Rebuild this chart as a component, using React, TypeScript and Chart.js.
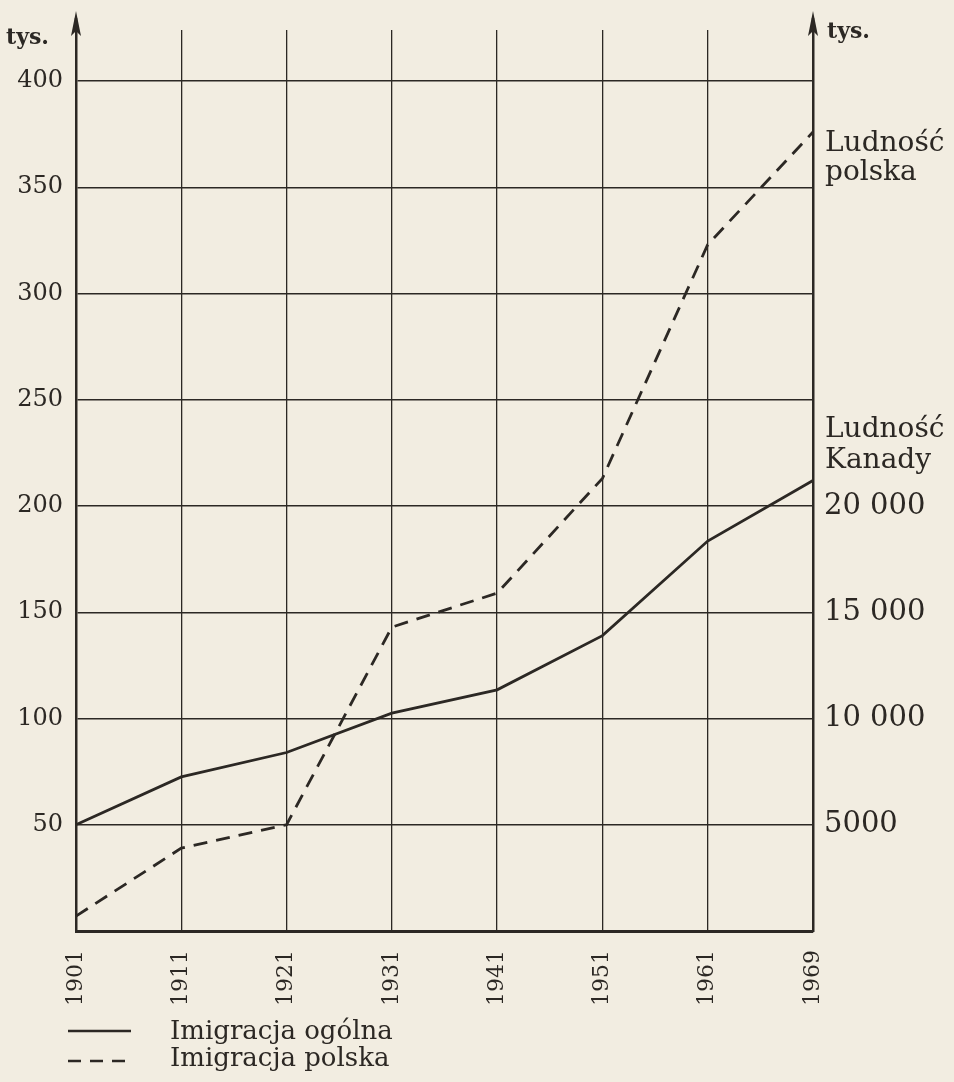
import { useEffect, useRef } from 'react';
import { Chart, registerables } from 'chart.js';

Chart.register(...registerables);

// ---- data ----
const years = ['1901', '1911', '1921', '1931', '1941', '1951', '1961', '1969'];
// Imigracja polska (left axis, tys.)
const polishImmigration = [7, 39, 50, 143, 159, 213, 323, 376];
// Imigracja ogólna / Ludność Kanady (right axis, tys.)
const totalImmigration = [5000, 7250, 8400, 10250, 11350, 13900, 18350, 21200];
const leftTicks = [50, 100, 150, 200, 250, 300, 350, 400];
const rightTicks = [5000, 10000, 15000, 20000];
const rightTickLabels = ['5000', '10 000', '15 000', '20 000'];
const legendLabels = ['Imigracja ogólna', 'Imigracja polska'];
const unitLabel = 'tys.';
const polishEndLabel = ['Ludność', 'polska'];
const canadaEndLabel = ['Ludność', 'Kanady'];

const INK = '#2c2824';
const BG = '#f2ede1';
const FONT = "'DejaVu Serif', 'Liberation Serif', serif";

const decorPlugin = {
  id: 'decor',
  afterDraw(chart: any) {
    const { ctx, chartArea: a } = chart;
    ctx.save();
    ctx.strokeStyle = INK;
    ctx.fillStyle = INK;
    // axis extensions with arrows
    for (const x of [a.left, a.right]) {
      ctx.lineWidth = 2.5;
      ctx.setLineDash([]);
      ctx.beginPath();
      ctx.moveTo(x, a.top);
      ctx.lineTo(x, a.top - 12);
      ctx.stroke();
      ctx.beginPath();
      ctx.moveTo(x, a.top - 19);
      ctx.lineTo(x - 5, a.top + 6);
      ctx.lineTo(x, a.top + 1);
      ctx.lineTo(x + 5, a.top + 6);
      ctx.closePath();
      ctx.fill();
    }
    // unit labels
    ctx.textAlign = 'left';
    ctx.textBaseline = 'alphabetic';
    ctx.font = `bold 22px ${FONT}`;
    ctx.fillText(unitLabel, 6, 44);
    ctx.fillText(unitLabel, a.right + 14, 38);
    // end labels
    ctx.font = `28px ${FONT}`;
    ctx.fillText(polishEndLabel[0], a.right + 12, 151);
    ctx.fillText(polishEndLabel[1], a.right + 12, 180);
    ctx.fillText(canadaEndLabel[0], a.right + 12, 437);
    ctx.fillText(canadaEndLabel[1], a.right + 12, 468);
    // legend
    ctx.lineWidth = 2.5;
    ctx.beginPath();
    ctx.moveTo(68, 1031);
    ctx.lineTo(131, 1031);
    ctx.stroke();
    ctx.setLineDash([13, 9]);
    ctx.beginPath();
    ctx.moveTo(68, 1061);
    ctx.lineTo(131, 1061);
    ctx.stroke();
    ctx.setLineDash([]);
    ctx.font = `26px ${FONT}`;
    ctx.fillText(legendLabels[0], 170, 1039);
    ctx.fillText(legendLabels[1], 170, 1066);
    ctx.restore();
  },
};

export default function App() {
  const ref = useRef<HTMLCanvasElement | null>(null);

  useEffect(() => {
    if (!ref.current) return;
    const chart = new Chart(ref.current, {
      type: 'line',
      data: {
        labels: years,
        datasets: [
          {
            label: legendLabels[0],
            data: totalImmigration,
            yAxisID: 'yR',
            borderColor: INK,
            borderWidth: 2.8,
            pointRadius: 0,
            tension: 0,
            fill: false,
          },
          {
            label: legendLabels[1],
            data: polishImmigration,
            yAxisID: 'y',
            borderColor: INK,
            borderWidth: 2.8,
            borderDash: [14, 9],
            pointRadius: 0,
            tension: 0,
            fill: false,
          },
        ],
      },
      options: {
        animation: false,
        responsive: false,
        devicePixelRatio: 1,
        layout: { padding: { top: 30, left: 0, right: 0, bottom: 0 } },
        plugins: {
          legend: { display: false },
          tooltip: { enabled: false },
        },
        scales: {
          x: {
            type: 'category',
            offset: false,
            grid: { color: INK, lineWidth: 1.3, drawTicks: false },
            border: { display: true, color: INK, width: 3 },
            ticks: {
              minRotation: 90,
              maxRotation: 90,
              padding: 19,
              color: INK,
              font: { family: FONT, size: 22 },
            },
            afterFit(scale: any) {
              scale.height = 151;
            },
          },
          y: {
            position: 'left',
            min: 0,
            max: 424,
            grid: { color: INK, lineWidth: 1.5, drawTicks: false },
            border: { display: true, color: INK, width: 2.5 },
            afterBuildTicks(scale: any) {
              scale.ticks = leftTicks.map((v) => ({ value: v }));
            },
            ticks: {
              padding: 13,
              color: INK,
              font: { family: FONT, size: 24 },
            },
            afterFit(scale: any) {
              scale.width = 76;
            },
          },
          yR: {
            position: 'right',
            min: 0,
            max: 42400,
            grid: { drawOnChartArea: false, drawTicks: false },
            border: { display: true, color: INK, width: 2.5 },
            afterBuildTicks(scale: any) {
              scale.ticks = rightTicks.map((v) => ({ value: v }));
            },
            ticks: {
              padding: 11,
              color: INK,
              font: { family: FONT, size: 29 },
              callback: (v: any) => {
                const i = rightTicks.indexOf(Number(v));
                return i >= 0 ? rightTickLabels[i] : '';
              },
            },
            afterFit(scale: any) {
              scale.width = 141;
            },
          },
        },
      },
      plugins: [decorPlugin],
    });
    return () => chart.destroy();
  }, []);

  return (
    <div
      style={{
        position: 'fixed',
        left: 0,
        top: 0,
        width: 954,
        height: 1082,
        background: BG,
      }}
    >
      <canvas ref={ref} width={954} height={1082} style={{ display: 'block' }} />
    </div>
  );
}
